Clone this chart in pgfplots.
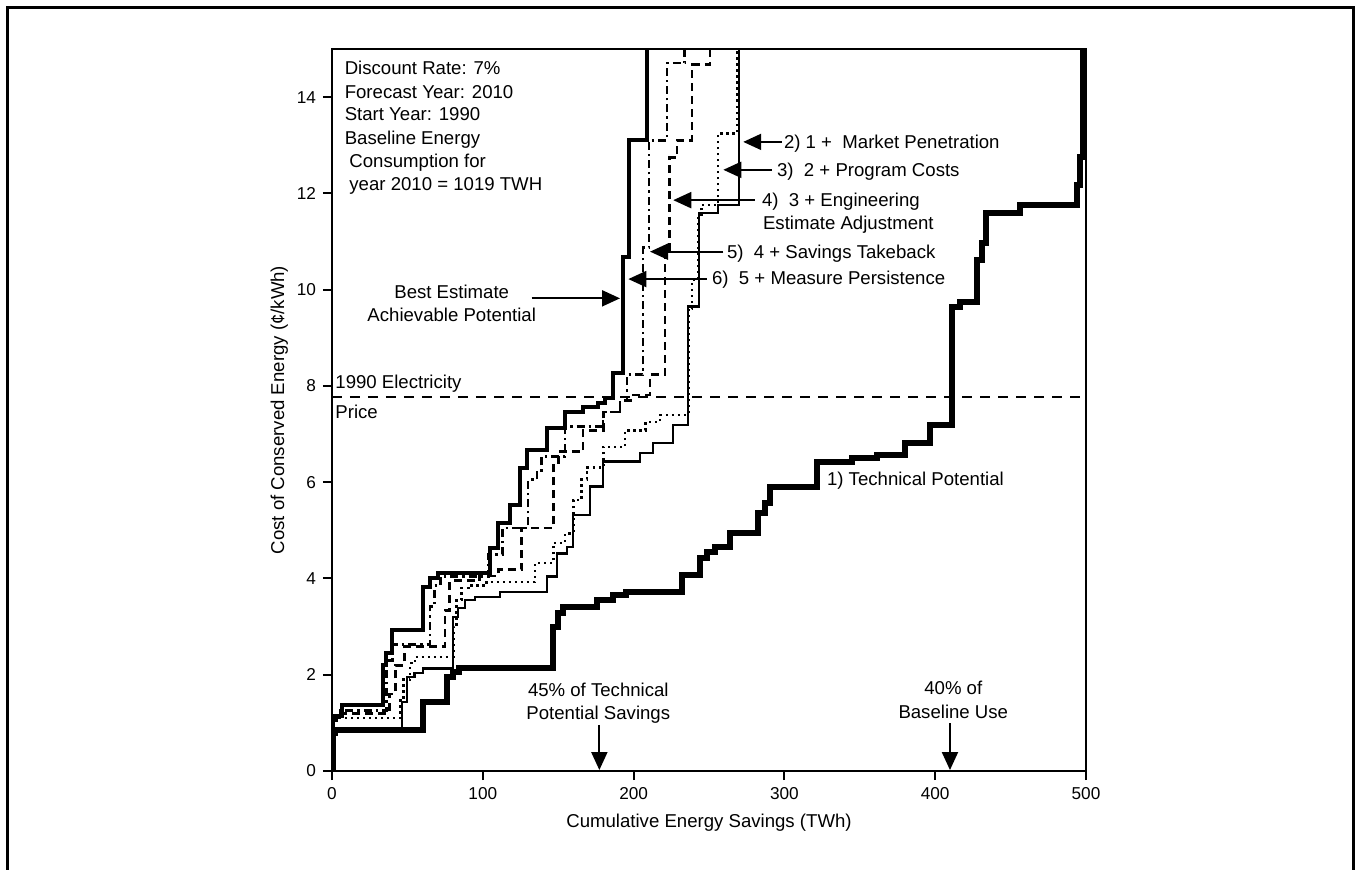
\documentclass[border=0pt]{standalone}
\usepackage{fontspec}
\setmainfont{Liberation Sans}
\usepackage{pgfplots}
\pgfplotsset{compat=1.18}
\usetikzlibrary{arrows.meta}

\tikzset{
  ann/.style={font=\fontsize{9.3}{11}\selectfont, inner sep=0pt},
  pt/.style={line width=1pt, -{Triangle[length=9pt,width=8pt]}}
}

\begin{document}
\begin{tikzpicture}
\begin{axis}[
  scale only axis, width=377pt, height=361pt,
  xmin=0, xmax=500, ymin=0, ymax=15,
  xtick={0,100,...,500}, ytick={0,2,...,14},
  tick pos=left, tick align=outside, major tick length=4.5pt,
  tick style={black, line width=1pt},
  axis line style={line width=1.1pt},
  /pgf/number format/assume math mode=true,
  tick label style={font=\fontsize{8.6}{10}\selectfont},
  label style={font=\fontsize{9.3}{11}\selectfont},
  xlabel={Cumulative Energy Savings (TWh)},
  ylabel={Cost of Conserved Energy (¢/kWh)},
  xlabel style={at={(axis description cs:0.5,-0.072)}, anchor=center},
  ylabel style={at={(axis description cs:-0.07,0.5)}, anchor=center},
  clip mode=individual,
]
% 1) technical potential
\addplot[const plot, black, line width=3pt] coordinates {
  (0,0)(0.6,0.78)(2,0.85)(60.6,1.44)(76,1.96)(80.4,2.05)(84,2.13)
  (146.8,3.0)(150,3.28)(153.4,3.41)(175.5,3.55)(186.5,3.66)(195,3.72)
  (231.9,4.07)(244,4.42)(248.5,4.56)(254,4.66)(263.9,4.94)(282.7,5.35)
  (287.1,5.56)(290.4,5.91)(321.4,6.43)(345,6.5)(361.2,6.57)(379.9,6.81)
  (396.5,7.19)(410.9,9.65)(416.4,9.75)(427.5,10.62)(431,10.96)(434,11.59)
  (456.2,11.76)(493.8,12.18)(496,12.76)(497.8,15.5)};
% 2) market penetration
\addplot[const plot, black, line width=1.1pt] coordinates {
  (0,0)(0.5,0.9)(46.2,1.44)(49.5,1.96)(54.7,2.03)(60.6,2.13)(80.4,3.2)
  (83.8,3.38)(88.2,3.55)(94.8,3.62)(111.4,3.72)(142.4,4.04)(149,4.52)
  (155.6,4.66)(160,5.32)(171.1,5.91)(179.9,6.43)(204.2,6.6)(213,6.81)
  (226.3,7.19)(236.3,9.65)(243.4,11.6)(256,11.76)(270,15.5)};
% 3) program costs
\addplot[const plot, black, line width=1.3pt, dash pattern=on 1.2pt off 1.8pt] coordinates {
  (0,0)(0.5,1.0)(3,1.1)(45.5,1.5)(47.5,1.9)(51.7,2.24)(55,2.37)(80.4,3.0)
  (82.7,3.55)(86,3.8)(90.5,3.86)(102.6,3.93)(134.6,4.32)(146.8,4.74)
  (154.5,4.94)(160,5.63)(165.6,6.05)(169,6.3)(180,6.73)(194.3,7.08)
  (208,7.25)(217.5,7.4)(236.3,9.6)(238.7,10.2)(242.7,11.55)(245,11.76)
  (256,13.25)(268.5,15.5)};
% 4) engineering estimate adjustment
\addplot[const plot, black, line width=1.4pt, dash pattern=on 4pt off 2.5pt] coordinates {
  (0,0)(0.5,1.1)(4,1.2)(38,1.6)(42,2.2)(48,2.58)(75,3.34)(78,3.95)
  (98,4.05)(110.3,4.18)(125.8,5.05)(146.8,6.4)(150,6.63)(166.5,7.08)
  (180,7.46)(191,7.7)(199.6,7.81)(210.9,8.23)(220.8,10.8)(224,12.74)
  (228.8,13.1)(238.7,14.67)(250.6,15.5)};
% 5) savings takeback
\addplot[const plot, black, line width=1.4pt, dash pattern=on 4pt off 2pt on 1.2pt off 2pt] coordinates {
  (0,0)(0.5,1.15)(4,1.25)(36,2.3)(40,2.62)(65,3.41)(68,3.85)(72,4.04)
  (104,4.5)(113,5.05)(130,6.05)(136,6.25)(139,6.53)(154.5,7.15)
  (179.7,7.46)(191,7.7)(195.6,8.23)(206.2,10.87)(210.2,13.1)(222.1,14.71)
  (234,15.5)};
% 6) best estimate
\addplot[const plot, black, line width=2pt] coordinates {
  (0,0)(0.5,1.15)(6.4,1.37)(34,2.2)(36,2.45)(39.6,2.93)(60.6,3.83)(65,4.0)
  (70.5,4.11)(104.8,4.63)(110.3,5.15)(118,5.53)(124.7,6.29)(129.1,6.67)
  (142.4,7.12)(154.5,7.46)(166.7,7.57)(176.6,7.65)(181,7.75)(186.5,8.27)
  (193.2,10.68)(197,13.1)(208.9,15.5)};
% 1990 electricity price
\addplot[black, line width=1pt, dash pattern=on 5pt off 4pt] coordinates {(0,7.78)(500,7.78)};

\node[ann, anchor=base west] at (axis cs:8.2,14.46) {Discount Rate: 7\%};
\node[ann, anchor=base west] at (axis cs:8.2,13.98) {Forecast Year: 2010};
\node[ann, anchor=base west] at (axis cs:8.2,13.51) {Start Year: 1990};
\node[ann, anchor=base west] at (axis cs:8.2,13.01) {Baseline Energy};
\node[ann, anchor=base west] at (axis cs:11.3,12.54) {Consumption for};
\node[ann, anchor=base west] at (axis cs:11.3,12.06) {year 2010 = 1019 TWH};

\node[ann, anchor=base west] at (axis cs:2,7.95) {1990 Electricity};
\node[ann, anchor=base west] at (axis cs:2,7.33) {Price};

\node[ann, anchor=base] at (axis cs:79.4,9.82) {Best Estimate};
\node[ann, anchor=base] at (axis cs:79.4,9.34) {Achievable Potential};
\draw[pt] (axis cs:132.4,9.82) -- (axis cs:191,9.82);

\draw[pt] (axis cs:298.2,13.07) -- (axis cs:272.7,13.07);
\node[ann, anchor=base west] at (axis cs:299.5,12.94) {2) 1 +~ Market Penetration};
\draw[pt] (axis cs:291.6,12.49) -- (axis cs:259.5,12.49);
\node[ann, anchor=base west] at (axis cs:294.9,12.35) {3)~ 2 + Program Costs};
\draw[pt] (axis cs:280.5,11.86) -- (axis cs:226.3,11.86);
\node[ann, anchor=base west] at (axis cs:284.9,11.72) {4)~ 3 + Engineering};
\node[ann, anchor=base west] at (axis cs:285.6,11.25) {Estimate Adjustment};
\draw[pt] (axis cs:259.5,10.79) -- (axis cs:210.9,10.79);
\node[ann, anchor=base west] at (axis cs:261.7,10.65) {5)~ 4 + Savings Takeback};
\draw[pt] (axis cs:248.5,10.22) -- (axis cs:196.5,10.22);
\node[ann, anchor=base west] at (axis cs:251.8,10.1) {6)~ 5 + Measure Persistence};

\node[ann, anchor=base west] at (axis cs:328,5.94) {1) Technical Potential};

\node[ann, anchor=base] at (axis cs:176.6,1.54) {45\% of Technical};
\node[ann, anchor=base] at (axis cs:176.6,1.07) {Potential Savings};
\draw[pt] (axis cs:177.3,0.96) -- (axis cs:177.3,0.02);
\node[ann, anchor=base] at (axis cs:412,1.58) {40\% of};
\node[ann, anchor=base] at (axis cs:412,1.09) {Baseline Use};
\draw[pt] (axis cs:409.8,0.99) -- (axis cs:409.8,0.02);

\coordinate (bbsw) at (axis cs:-220.16,-2.036);
\coordinate (bbne) at (axis cs:679.05,16.018);
\coordinate (frbl) at (axis cs:-215.5,-3);
\coordinate (frtl) at (axis cs:-215.5,15.852);
\coordinate (frtr) at (axis cs:677.7,15.852);
\coordinate (frbr) at (axis cs:677.7,-3);
\end{axis}
\pgfresetboundingbox
\path[use as bounding box] (bbsw) rectangle (bbne);
\draw[line width=1.5pt] (frbl) -- (frtl) -- (frtr) -- (frbr);
\end{tikzpicture}
\end{document}
